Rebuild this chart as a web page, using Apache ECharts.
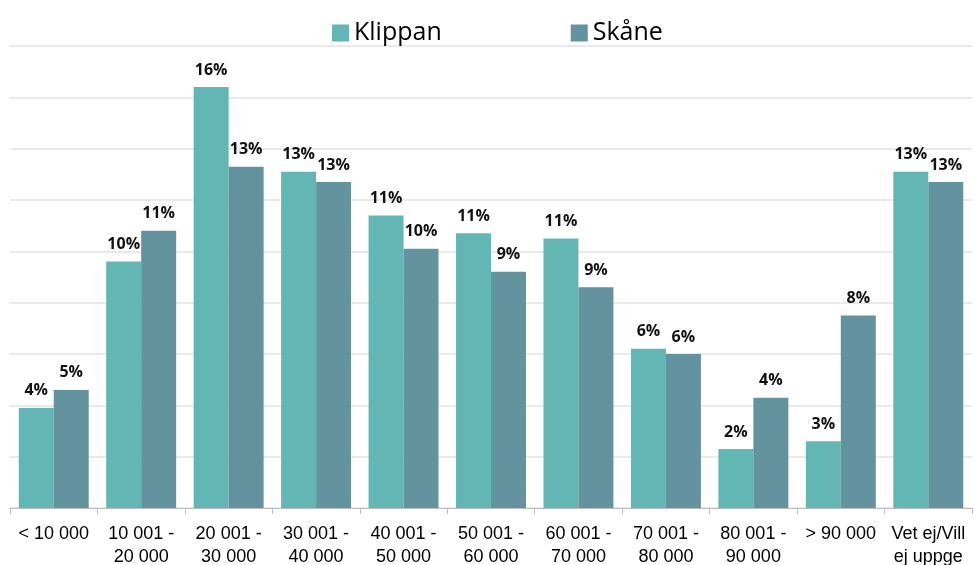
<!DOCTYPE html>
<html>
<head>
<meta charset="utf-8">
<script src="https://cdn.jsdelivr.net/npm/echarts@6/dist/echarts.min.js"></script>
<style>
html,body{margin:0;padding:0;background:#fff;}
#chart{width:974px;height:565px;}
</style>
</head>
<body>
<div id="chart"></div>
<script>
// kategorier (inkomst)
var categories = ['< 10 000', '10 001 -\n20 000', '20 001 -\n30 000', '30 001 -\n40 000', '40 001 -\n50 000',
    '50 001 -\n60 000', '60 001 -\n70 000', '70 001 -\n80 000', '80 001 -\n90 000', '> 90 000', 'Vet ej/Vill\nej uppge'];
// andel i procent
var klippan = [3.9, 9.6, 16.4, 13.1, 11.4, 10.7, 10.5, 6.2, 2.3, 2.6, 13.1];
var skane = [4.6, 10.8, 13.3, 12.7, 10.1, 9.2, 8.6, 6.0, 4.3, 7.5, 12.7];
var seriesNames = ['Klippan', 'Skåne'];

var myChart = echarts.init(document.getElementById('chart'));

var labelStyle = {
    show: true,
    position: 'top',
    distance: 9,
    fontFamily: 'Open Sans',
    fontWeight: 'bold',
    fontSize: 16,
    color: '#111',
    formatter: function (p) { return Math.round(p.value) + '%'; }
};

var option = {
    animation: false,
    color: ['#62b7b5', '#62939e'],
    legend: {
        left: 327,
        top: 14,
        itemWidth: 17,
        itemHeight: 17,
        itemGap: 129,
        icon: 'rect',
        textStyle: {
            fontFamily: 'Open Sans',
            fontSize: 25,
            lineHeight: 28,
            color: '#000'
        },
        data: seriesNames
    },
    grid: {
        left: 10,
        right: 2,
        top: 46,
        bottom: 57,
        containLabel: false,
        outerBoundsMode: 'none'
    },
    xAxis: {
        type: 'category',
        data: categories,
        axisLine: { lineStyle: { color: '#bfbfbf', width: 1 } },
        axisTick: { show: true, length: 6, lineStyle: { color: '#bfbfbf' } },
        axisLabel: {
            interval: 0,
            margin: 15,
            fontFamily: 'Liberation Sans',
            fontSize: 18,
            lineHeight: 23,
            color: '#000'
        }
    },
    yAxis: {
        type: 'value',
        min: 0,
        max: 18,
        interval: 2,
        axisLabel: { show: false },
        axisLine: { show: false },
        axisTick: { show: false },
        //网格线
        splitLine: { lineStyle: { color: '#e3e3e3', width: 1.5 } }
    },
    series: [
        {
            name: seriesNames[0],
            type: 'bar',
            barGap: '0%',
            barCategoryGap: '20%',
            data: klippan,
            label: labelStyle
        },
        {
            name: seriesNames[1],
            type: 'bar',
            barGap: '0%',
            barCategoryGap: '20%',
            data: skane,
            label: labelStyle
        }
    ]
};
myChart.setOption(option);
</script>
</body>
</html>
